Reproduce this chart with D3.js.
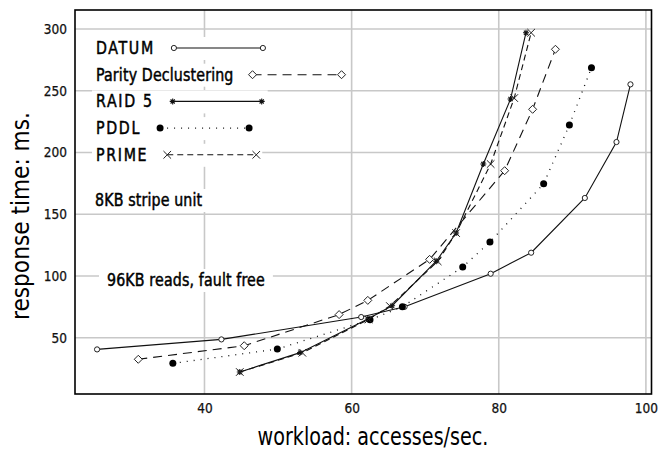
<!DOCTYPE html>
<html>
<head>
<meta charset="utf-8">
<script src="https://cdn.jsdelivr.net/npm/d3@7"></script>
<style>
  body { margin: 0; background: #fff; }
  svg { display: block; }
  .tick-label { font-family: "DejaVu Sans Condensed", sans-serif; font-size: 13.5px; fill: #111; stroke: #111; stroke-width: 0.25px; }
  .axis-title { font-family: "DejaVu Sans Condensed", sans-serif; font-size: 24px; fill: #000; }
  .legend, .note { font-family: "DejaVu Sans Condensed", sans-serif; font-size: 17px; fill: #000; stroke: #000; stroke-width: 0.45px; }
</style>
</head>
<body>
<div id="chart"></div>
<script>
// x = workload (accesses/sec), y = response time (ms)
const seriesNames = ["DATUM", "Parity Declustering", "RAID 5", "PDDL", "PRIME"];

const datumPts = [[25.4, 40.6], [42.3, 48.7], [61.3, 66.8], [67.2, 75.1], [78.9, 101.9], [84.4, 118.9], [91.7, 163.2], [96.0, 208.5], [97.9, 255.2]];
const parityPts = [[31.0, 32.6], [45.4, 43.6], [58.3, 68.8], [62.2, 80.3], [70.6, 113.5], [80.8, 185.3], [84.6, 235], [87.7, 283.6]];
const raid5Pts = [[44.8, 22.3], [53.0, 38], [62.2, 65.2], [65.5, 76], [71.5, 112], [74.2, 134.8], [77.9, 190.7], [81.6, 243.3], [83.7, 297]];
const pddlPts = [[35.7, 29.3], [49.9, 40.9], [62.5, 64.6], [66.9, 75.1], [75.1, 107.3], [78.8, 127.5], [86.1, 174.7], [89.6, 222.3], [92.6, 268.7]];
const primePts = [[44.8, 22.3], [53.3, 37.9], [62.3, 64.9], [65.2, 75.7], [71.7, 111.9], [74.2, 134.8], [78.9, 190.7], [82.1, 244.1], [84.4, 297]];

const xTicks = [40, 60, 80, 100];
const yTicks = [50, 100, 150, 200, 250, 300];
const notes = ["8KB stripe unit", "96KB reads, fault free"];

const W = 660, H = 452;
const margin = { top: 10, right: 8.5, bottom: 58, left: 75 };
const width = W - margin.left - margin.right;
const height = H - margin.top - margin.bottom;

const svg = d3.select("#chart").append("svg")
    .attr("width", W)
    .attr("height", H);

const g = svg.append("g")
    .attr("transform", `translate(${margin.left},${margin.top})`);

const x = d3.scaleLinear().domain([22.4, 100.76]).range([0, width]);
const y = d3.scaleLinear().domain([4.5, 315.4]).range([height, 0]);

// grid
g.append("g").selectAll("line").data(xTicks).join("line")
    .attr("x1", d => x(d)).attr("x2", d => x(d))
    .attr("y1", 0).attr("y2", height)
    .attr("stroke", "#c8c8c8").attr("stroke-width", 1.6);
g.append("g").selectAll("line").data(yTicks).join("line")
    .attr("x1", 0).attr("x2", width)
    .attr("y1", d => y(d)).attr("y2", d => y(d))
    .attr("stroke", "#c8c8c8").attr("stroke-width", 1.6);

// tick labels through d3 axes (no tick lines)
const xAxis = g.append("g")
    .attr("transform", `translate(0,${height})`)
    .call(d3.axisBottom(x).tickValues(xTicks).tickSize(0).tickPadding(9));
const yAxis = g.append("g")
    .call(d3.axisLeft(y).tickValues(yTicks).tickSize(0).tickPadding(8));
[xAxis, yAxis].forEach(a => {
    a.select(".domain").remove();
    a.selectAll("text").attr("class", "tick-label").attr("font-family", null).attr("font-size", null);
});

// series styles
const series = [
    { name: seriesNames[0], pts: datumPts, dash: null, marker: "circle" },
    { name: seriesNames[1], pts: parityPts, dash: "9,6", marker: "diamond" },
    { name: seriesNames[2], pts: raid5Pts, dash: null, marker: "star" },
    { name: seriesNames[3], pts: pddlPts, dash: "1,6", marker: "dot" },
    { name: seriesNames[4], pts: primePts, dash: "6,4", marker: "cross" }
];

function drawMarker(sel, type, cx, cy) {
    if (type === "circle") {
        sel.append("circle").attr("cx", cx).attr("cy", cy).attr("r", 2.6)
            .attr("fill", "#fff").attr("stroke", "#222").attr("stroke-width", 1);
    } else if (type === "diamond") {
        const s = 4;
        sel.append("path").attr("d", `M${cx},${cy - s}L${cx + s},${cy}L${cx},${cy + s}L${cx - s},${cy}Z`)
            .attr("fill", "#fff").attr("stroke", "#222").attr("stroke-width", 1);
    } else if (type === "star") {
        const s = 3;
        sel.append("path")
            .attr("d", `M${cx - s},${cy}L${cx + s},${cy}M${cx},${cy - s}L${cx},${cy + s}M${cx - s * 0.7},${cy - s * 0.7}L${cx + s * 0.7},${cy + s * 0.7}M${cx - s * 0.7},${cy + s * 0.7}L${cx + s * 0.7},${cy - s * 0.7}`)
            .attr("stroke", "#111").attr("stroke-width", 1.1);
    } else if (type === "dot") {
        sel.append("circle").attr("cx", cx).attr("cy", cy).attr("r", 3.5).attr("fill", "#000");
    } else if (type === "cross") {
        const s = 3.8;
        sel.append("path")
            .attr("d", `M${cx - s},${cy - s}L${cx + s},${cy + s}M${cx - s},${cy + s}L${cx + s},${cy - s}`)
            .attr("stroke", "#222").attr("stroke-width", 1);
    }
}

const line = d3.line().x(d => x(d[0])).y(d => y(d[1]));

const plot = g.append("g");
series.forEach(s => {
    plot.append("path")
        .datum(s.pts)
        .attr("d", line)
        .attr("fill", "none")
        .attr("stroke", "#111")
        .attr("stroke-width", s.marker === "dot" ? 1.3 : 1.1)
        .attr("stroke-dasharray", s.dash);
    s.pts.forEach(p => drawMarker(plot, s.marker, x(p[0]), y(p[1])));
});

// condensed text: squeeze horizontally around the start point
const squeeze = 0.93;
function squeezedText(sel, cls, tx, ty, txt, spacing) {
    const t = sel.append("text").attr("class", cls)
        .attr("transform", `translate(${tx},${ty}) scale(${squeeze},1)`)
        .style("letter-spacing", spacing + "px")
        .text(txt);
    return t.node().getComputedTextLength() * squeeze;
}

// legend with white boxes
const legendX = 96 - margin.left;
const legendY0 = 54 - margin.top;
const legendStep = 26.7;
const sampleLen = 89;
const leg = g.append("g");
series.forEach((s, i) => {
    const row = leg.append("g");
    const ty = legendY0 + i * legendStep;
    const bg = row.append("rect").attr("fill", "#fff");
    const caps = /^[A-Z0-9 ]+$/.test(s.name);
    const tw = squeezedText(row, "legend", legendX, ty, s.name, caps ? 1.8 : 0.15);
    const sx = legendX + tw + 19;
    const sy = ty - 6;
    bg.attr("x", legendX - 4).attr("y", ty - 17).attr("width", tw + 19 + sampleLen + 10).attr("height", 23);
    row.append("line").attr("x1", sx).attr("x2", sx + sampleLen).attr("y1", sy).attr("y2", sy)
        .attr("stroke", "#111").attr("stroke-width", s.marker === "dot" ? 1.3 : 1.1)
        .attr("stroke-dasharray", s.dash);
    drawMarker(row, s.marker, sx, sy);
    drawMarker(row, s.marker, sx + sampleLen, sy);
});

// notes
[[95, 206], [107, 286]].forEach((pos, i) => {
    const ng = g.append("g");
    const bg = ng.append("rect").attr("fill", "#fff");
    const tw = squeezedText(ng, "note", pos[0] - margin.left, pos[1] - margin.top, notes[i], 0.15);
    bg.attr("x", pos[0] - margin.left - 8).attr("y", pos[1] - margin.top - 17)
        .attr("width", tw + 16).attr("height", 23);
});

// frame
g.append("rect").attr("x", 0).attr("y", 0).attr("width", width).attr("height", height)
    .attr("fill", "none").attr("stroke", "#000").attr("stroke-width", 1.6);

// axis titles, squeezed horizontally to the condensed look of the original
function condensedTitle(txt, cx, baseY, targetLen, rotate) {
    const t = svg.append("text").attr("class", "axis-title")
        .attr("text-anchor", "middle").text(txt);
    const k = targetLen / t.node().getComputedTextLength();
    t.attr("transform", rotate
        ? `translate(${baseY},${cx}) rotate(-90) scale(${k},1)`
        : `translate(${cx},${baseY}) scale(${k},1)`);
}
condensedTitle("workload: accesses/sec.", 373, 445, 231, false);
condensedTitle("response time: ms.", 216, 29, 208, true);
</script>
</body>
</html>
